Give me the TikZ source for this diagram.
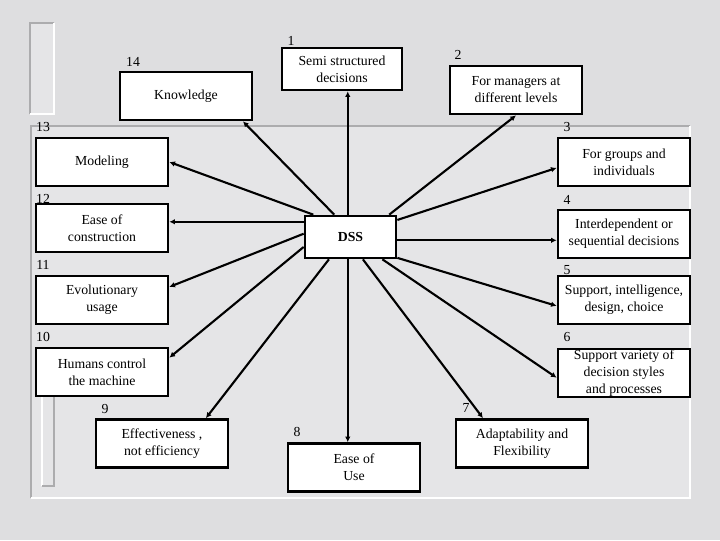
\documentclass[tikz,border=0pt]{standalone}
\usepackage{fontspec}
\setmainfont{Liberation Serif}
\usetikzlibrary{arrows.meta}
\definecolor{marble}{RGB}{222,222,224}
\definecolor{panel}{RGB}{229,229,231}
\definecolor{edge}{RGB}{172,172,174}
\tikzset{
  box/.style={draw, fill=white, line width=1.9pt, minimum width=3.3cm, minimum height=1.2cm,
    align=center, inner sep=1pt, font=\fontsize{9.8}{12.1}\selectfont},
  arr/.style={line width=1.5pt, -{Latex[length=4pt,width=4pt]}},
  num/.style={inner sep=0pt, font=\fontsize{9.8}{12}\selectfont}
}
\begin{document}
\begin{tikzpicture}[x=0.025cm,y=-0.025cm]
\useasboundingbox (0,0) rectangle (720,540);
\fill[marble] (0,0) rectangle (720,540);
% frame
\fill[panel] (30,23) rectangle (54,114);
\draw[edge,line width=1.5pt] (30,114) -- (30,23) -- (54,23);
\draw[white,line width=1.5pt] (54,23) -- (54,114) -- (30,114);
\fill[panel] (31,126) rectangle (690,498);
\draw[edge,line width=1.5pt] (31,498) -- (31,126) -- (690,126);
\draw[white,line width=1.5pt] (690,126) -- (690,498) -- (31,498);
\fill[panel] (42,390) rectangle (54,486);
\draw[white,line width=1.5pt] (42,390) -- (42,486);
\draw[edge,line width=1.5pt] (42,486) -- (54,486) -- (54,390);

% boxes
\node[box,minimum width=3cm,minimum height=1.05cm] (semi) at (342,69) {Semi structured\\decisions};
\node[box] (managers) at (516,90) {For managers at\\different levels};
\node[box] (know) at (186,96) {Knowledge};
\node[box] (model) at (102,162) {Modeling};
\node[box] (groups) at (624,162) {For groups and\\individuals};
\node[box] (ease) at (102,228) {Ease of\\construction};
\node[box] (interdep) at (624,234) {Interdependent or\\sequential decisions};
\node[box,minimum width=2.275cm,minimum height=1.05cm,font=\fontsize{9.8}{12}\selectfont\bfseries] (dss) at (350.5,237) {DSS};
\node[box] (evol) at (102,300) {Evolutionary\\usage};
\node[box] (suppint) at (624,300) {Support, intelligence,\\design, choice};
\node[box] (humans) at (102,372) {Humans control\\the machine};
\node[box,inner sep=0pt] (suppvar) at (624,373) {Support variety of\\decision styles\\and processes};
\node[box] (effect) at (162,443.5) {Effectiveness ,\\not efficiency};
\node[box] (easeuse) at (354,467.5) {Ease of\\Use};
\node[box] (adapt) at (522,443.5) {Adaptability and\\Flexibility};

% numbers
\foreach \t/\x/\y in {1/291/41, 2/458/55, 3/567/127, 4/567/200, 5/567/270, 6/567/337, 7/466/408,
  8/297/432, 9/105/409, 10/43/337, 11/43/265, 12/43/199, 13/43/127, 14/133/62}{
  \node[num] (n\t) at (\x,\y) {\t};
}

% arrows
\draw[arr] (dss.97) -- (dss.97 |- semi.south);
\draw[arr] (dss.263) -- (dss.263 |- easeuse.north);
\draw[arr] (dss.162) -- (dss.162 -| ease.east);
\draw[arr] (dss.356) -- (dss.356 -| interdep.west);
\foreach \a/\b in {126/know.336, 149/model.east, 30/managers.south, 20/groups.185,
  176/evol.11, 192/humans.12, 336/suppint.185, 325/suppvar.184, 226/effect.30, 299/adapt.147}{
  \draw[arr] (dss.\a) -- (\b);
}
\end{tikzpicture}
\end{document}
